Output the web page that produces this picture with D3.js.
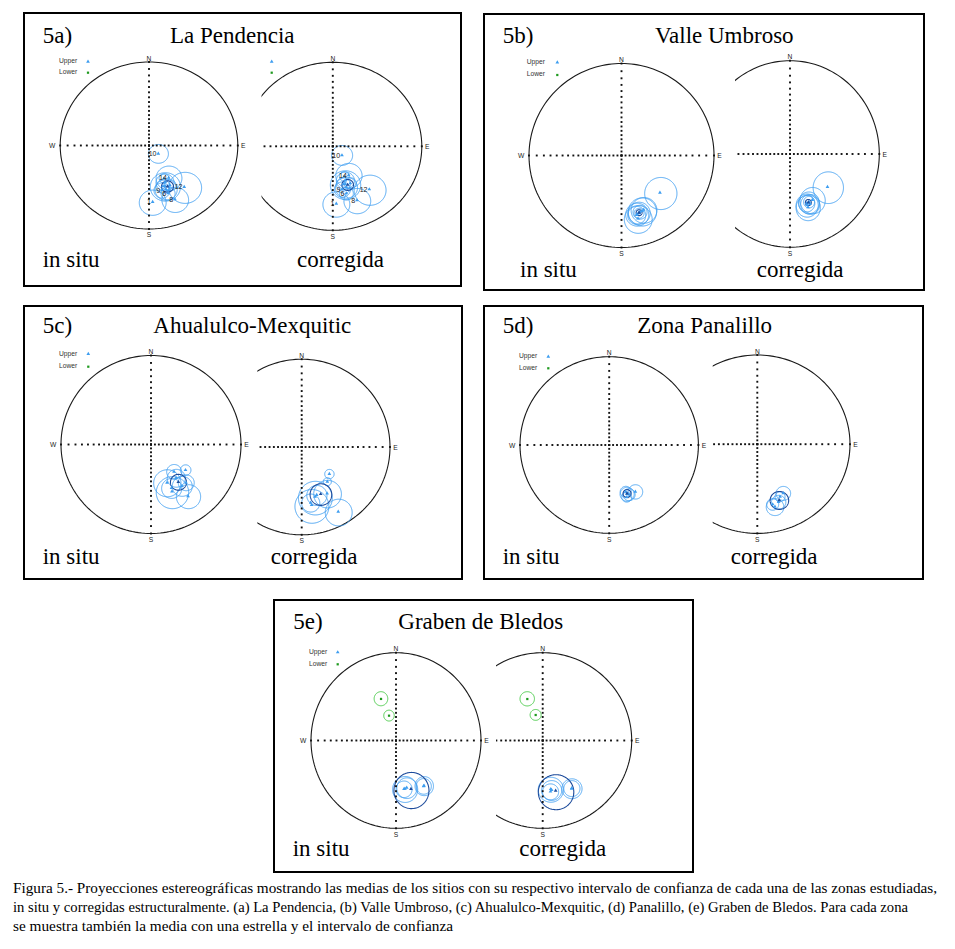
<!DOCTYPE html>
<html><head><meta charset="utf-8">
<script src="https://cdn.jsdelivr.net/npm/d3@7"></script>
<style>body{margin:0;background:#fff}svg{display:block}</style>
</head><body>
<script>
// ================= DATA =================
const panelIds = ["5a)", "5b)", "5c)", "5d)", "5e)"];
const panelTitles = ["La Pendencia", "Valle Umbroso", "Ahualulco-Mexquitic", "Zona Panalillo", "Graben de Bledos"];
const netNames = ["in situ", "corregida"];
const legendNames = ["Upper", "Lower"];
const compassNames = ["N", "E", "S", "W"];
const gridIncTicks = [0,5,10,15,20,25,30,35,40,45,50,55,60,65,70,75,80,85,90];
const captionLines = [
  "Figura 5.- Proyecciones estereográficas mostrando las medias de los sitios con su respectivo intervalo de confianza de cada una de las zonas estudiadas,",
  "in situ y corregidas estructuralmente. (a) La Pendencia, (b) Valle Umbroso, (c) Ahualulco-Mexquitic, (d) Panalillo, (e) Graben de Bledos. Para cada zona",
  "se muestra también la media con una estrella y el intervalo de confianza"
];

// site means: declination, inclination (negative = upper hemisphere), alpha95
const pendenciaInSitu = [
  {site:"10", dec:133.4, inc:-73.6, a95:12.6},
  {site:"12", dec:141.3, inc:-25.2, a95:15.0},
  {site:"1",  dec:176.5, inc:-21.9, a95:11.8},
  {site:"8",  dec:155.6, inc:-19.6, a95:11.4},
  {site:"14", dec:150.1, inc:-42.1, a95:13.8},
  {site:"",   dec:157.8, inc:-39.2, a95:9.5},
  {site:"",   dec:162.2, inc:-35.7, a95:7.1},
  {site:"",   dec:160.0, inc:-31.7, a95:10.8},
  {site:"9",  dec:164.8, inc:-31.9, a95:7.9},
  {site:"",   dec:153.6, inc:-34.1, a95:6.0},
  {site:"6",  dec:159.5, inc:-27.2, a95:6.6},
  {site:"",   dec:156.7, inc:-43.7, a95:5.4},
  {site:"",   dec:159.6, inc:-35.3, a95:15.2},
  {site:"",   dec:157.0, inc:-34.0, a95:6.0, mean:true}
];
const pendenciaCorr = [
  {site:"10", dec:136.1, inc:-73.1, a95:13.2},
  {site:"12", dec:141.3, inc:-23.5, a95:14.2},
  {site:"1",  dec:176.7, inc:-21.3, a95:11.7},
  {site:"8",  dec:157.1, inc:-20.2, a95:11.5},
  {site:"14", dec:152.7, inc:-47.6, a95:14.6},
  {site:"",   dec:160.9, inc:-43.6, a95:9.8},
  {site:"",   dec:165.4, inc:-40.0, a95:7.4},
  {site:"",   dec:162.7, inc:-35.9, a95:11.2},
  {site:"9",  dec:168.2, inc:-34.8, a95:8.1},
  {site:"",   dec:155.9, inc:-38.5, a95:6.3},
  {site:"6",  dec:164.8, inc:-29.8, a95:6.7},
  {site:"",   dec:160.1, inc:-48.4, a95:5.6},
  {site:"",   dec:162.8, inc:-39.4, a95:15.8},
  {site:"",   dec:160.0, inc:-38.0, a95:6.0, mean:true}
];
const umbrosoInSitu = [
  {dec:134.2, inc:-29.8, a95:14.8},
  {dec:165.4, inc:-19.4, a95:11.4},
  {dec:159.8, inc:-24.5, a95:12.3},
  {dec:163.1, inc:-24.0, a95:9.6},
  {dec:157.8, inc:-25.1, a95:11.3},
  {dec:165.8, inc:-22.6, a95:7.7},
  {dec:163.2, inc:-23.5, a95:4.3},
  {dec:162.0, inc:-24.3, a95:6.1},
  {dec:165.2, inc:-23.3, a95:9.9},
  {dec:163.0, inc:-24.0, a95:2.6, mean:true}
];
const umbrosoCorr = [
  {dec:130.1, inc:-32.5, a95:14.8},
  {dec:160.6, inc:-27.6, a95:11.3},
  {dec:153.1, inc:-32.2, a95:12.3},
  {dec:158.0, inc:-31.6, a95:10.1},
  {dec:160.5, inc:-31.5, a95:7.8},
  {dec:157.3, inc:-29.7, a95:9.1},
  {dec:160.8, inc:-29.9, a95:10.6},
  {dec:157.5, inc:-31.8, a95:5.4},
  {dec:158.5, inc:-31.6, a95:2.9, mean:true}
];
const ahualulcoInSitu = [
  {dec:126.8, inc:-38.8, a95:5.5},
  {dec:157.4, inc:-40.3, a95:14.2},
  {dec:156.2, inc:-30.0, a95:15.3},
  {dec:144.6, inc:-19.2, a95:10.2},
  {dec:140.1, inc:-46.5, a95:8.2},
  {dec:137.7, inc:-29.9, a95:7.6},
  {dec:155.0, inc:-33.3, a95:9.9},
  {dec:143.6, inc:-29.8, a95:9.5},
  {dec:143.5, inc:-39.8, a95:9.4},
  {dec:144.3, inc:-35.1, a95:8.0, mean:true}
];
const ahualulcoCorr = [
  {dec:134.5, inc:-42.6, a95:5.1},
  {dec:143.7, inc:-37.8, a95:4.2},
  {dec:170.3, inc:-22.4, a95:15.0},
  {dec:165.1, inc:-29.2, a95:16.1},
  {dec:151.4, inc:-28.0, a95:13.1},
  {dec:150.7, inc:-9.6,  a95:10.1},
  {dec:162.7, inc:-30.4, a95:9.8},
  {dec:170.9, inc:-24.6, a95:8.3},
  {dec:158.1, inc:-30.0, a95:10.5, mean:true}
];
const panalilloInSitu = [
  {dec:151.0, inc:-27.7, a95:6.8},
  {dec:160.2, inc:-28.9, a95:6.7},
  {dec:160.7, inc:-31.5, a95:5.4},
  {dec:161.6, inc:-26.3, a95:4.6},
  {dec:158.4, inc:-27.8, a95:5.7},
  {dec:160.0, inc:-29.4, a95:3.8, mean:true}
];
const panalilloCorr = [
  {dec:153.0, inc:-26.7, a95:6.5},
  {dec:164.8, inc:-18.0, a95:7.1},
  {dec:166.2, inc:-20.5, a95:5.0},
  {dec:157.4, inc:-25.0, a95:4.4},
  {dec:160.5, inc:-21.0, a95:6.0},
  {dec:159.3, inc:-22.4, a95:7.9, mean:true}
];
const bledosInSitu = [
  {dec:339.6, inc:36.4, a95:7.3},
  {dec:343.8, inc:57.2, a95:6.5},
  {dec:169.1, inc:-31.6, a95:12.8},
  {dec:166.8, inc:-32.2, a95:10.3},
  {dec:147.4, inc:-27.1, a95:9.0},
  {dec:148.0, inc:-27.0, a95:7.4},
  {dec:170.3, inc:-31.5, a95:8.2},
  {dec:162.3, inc:-29.8, a95:17.4, mean:true}
];
const bledosCorr = [
  {dec:339.9, inc:36.6, a95:7.4},
  {dec:344.8, inc:56.5, a95:6.5},
  {dec:170.7, inc:-31.5, a95:12.3},
  {dec:170.0, inc:-30.4, a95:9.7},
  {dec:149.1, inc:-25.2, a95:9.2},
  {dec:149.1, inc:-25.2, a95:7.4},
  {dec:171.4, inc:-29.1, a95:7.7},
  {dec:165.7, inc:-28.9, a95:16.7, mean:true}
];

// ================= LAYOUT / STYLE =================
const COL_UP = "#3d9df0", COL_MEAN = "#1d4b9b", COL_LOW = "#37c437";
const SERIF = "'Liberation Serif','Times New Roman',serif";
const SANS = "'Liberation Sans',Arial,sans-serif";

const panels = [
  {box:[24,13,461,286], idXY:[42.7,43.3], titleX:170, labelY:267, labelX:[42.7,297],
   legend:{tx:59, ty:[63,74], mx:88, my:[61.7,72.7], right:271.7},
   nets:[{cx:149,cy:145.5,rx:88.8,ry:83.5,data:pendenciaInSitu,labels:true},
         {cx:332.8,cy:146.3,rx:89,ry:84,clip:261.5,data:pendenciaCorr,labels:true}]},
  {box:[484,14,924,290], idXY:[502.7,43.3], titleX:655, labelY:276.7, labelX:[520,756.7],
   legend:{tx:526.7, ty:[64,76], mx:557.3, my:[62.3,75]},
   nets:[{cx:621.5,cy:155.5,rx:92.5,ry:92,data:umbrosoInSitu},
         {cx:790,cy:154,rx:89.3,ry:93.3,clip:735,data:umbrosoCorr}]},
  {box:[24,306,462,579], idXY:[42.7,333.3], titleX:153.3, labelY:564, labelX:[42.7,270.7],
   legend:{tx:59, ty:[355.5,368], mx:88.3, my:[354,366.7]},
   nets:[{cx:151,cy:444.5,rx:90,ry:89,data:ahualulcoInSitu},
         {cx:301.7,cy:447,rx:88.3,ry:87.8,clip:257.3,data:ahualulcoCorr}]},
  {box:[484,306,923,579], idXY:[502.7,333.3], titleX:637.3, labelY:564, labelX:[502.7,730.7],
   legend:{tx:519, ty:[358,370], mx:548.3, my:[356.7,368.3]},
   nets:[{cx:609.2,cy:445,rx:89.2,ry:88.3,data:panalilloInSitu},
         {cx:757.3,cy:444.2,rx:92.7,ry:89.2,clip:712.7,data:panalilloCorr}]},
  {box:[274,600,693,872], idXY:[293.3,629.3], titleX:398.3, labelY:856, labelX:[292.7,519.3],
   legend:{tx:309, ty:[654,665.5], mx:337.7, my:[652.3,664.3]},
   nets:[{cx:396,cy:740.5,rx:85,ry:87.8,data:bledosInSitu},
         {cx:542.7,cy:740.5,rx:89,ry:87.8,clip:496,data:bledosCorr}]}
];

// ================= DRAW =================
const svg = d3.select("body").append("svg").attr("width",955).attr("height",949)
  .attr("viewBox","0 0 955 949");
svg.append("rect").attr("width",955).attr("height",949).attr("fill","#fff");
const defs = svg.append("defs");
const triangle = d3.symbol(d3.symbolTriangle).size(6);
const square = d3.symbol(d3.symbolSquare).size(5);
let clipId = 0;

function drawNet(net) {
  const k = net.ry / net.rx;
  const proj = d3.geoStereographic().scale(net.rx).translate([0,0])
    .rotate([180,-90]).reflectX(true).precision(0.05);
  const path = d3.geoPath(proj);
  const P = (dec, inc) => { const p = proj([dec, Math.abs(inc)]); return [net.cx + p[0], net.cy + p[1]*k]; };

  const root = svg.append("g");
  if (net.clip != null) {
    const id = "clip" + (clipId++);
    defs.append("clipPath").attr("id", id).append("rect")
      .attr("x", net.clip).attr("y", 0).attr("width", 955 - net.clip).attr("height", 949);
    root.attr("clip-path", `url(#${id})`);
  }
  const inner = root.append("g").attr("transform", `translate(${net.cx},${net.cy}) scale(1,${k})`);
  // primitive circle
  inner.append("path").datum(d3.geoCircle().center([0,90]).radius(90)())
    .attr("d", path).attr("fill","none").attr("stroke","#1a1a1a").attr("stroke-width",1.1)
    .attr("vector-effect","non-scaling-stroke");

  // dotted N-S / E-W axes (5 degree inclination ticks)
  const dots = [];
  [0,90,180,270].forEach(az => gridIncTicks.forEach(i => dots.push(P(az, i))));
  root.selectAll("rect.dot").data(dots).join("rect").attr("class","dot")
    .attr("x", d => d[0]-0.95).attr("y", d => d[1]-0.95).attr("width",1.9).attr("height",1.9).attr("fill","#111");

  // confidence circles
  inner.selectAll("path.a95").data(net.data).join("path").attr("class","a95")
    .attr("d", d => path(d3.geoCircle().center([d.dec, Math.abs(d.inc)]).radius(d.a95)()))
    .attr("fill","none")
    .attr("stroke", d => d.inc > 0 ? COL_LOW : (d.mean ? COL_MEAN : COL_UP))
    .attr("stroke-width", d => d.mean ? 1.1 : 0.9)
    .attr("vector-effect","non-scaling-stroke");

  // markers
  root.selectAll("path.mk").data(net.data).join("path").attr("class","mk")
    .attr("d", d => d.inc > 0 ? square() : triangle())
    .attr("transform", d => { const p = P(d.dec, d.inc); return `translate(${p[0]},${p[1]})`; })
    .attr("fill", d => d.inc > 0 ? "#1e9a1e" : (d.mean ? COL_MEAN : COL_UP));

  if (net.labels) {
    root.selectAll("text.site").data(net.data.filter(d => d.site)).join("text").attr("class","site")
      .attr("x", d => P(d.dec, d.inc)[0] - 1.8).attr("y", d => P(d.dec, d.inc)[1] + 2.4)
      .attr("text-anchor","end").attr("font-family", SANS).attr("font-size", 7).attr("fill","#222")
      .text(d => d.site);
  }

  // compass labels
  const top = P(0,0), right = P(90,0), bottom = P(180,0), left = P(270,0);
  const lab = [
    {t:compassNames[0], x:top[0], y:top[1]-1.3, a:"middle"},
    {t:compassNames[1], x:right[0]+3.3, y:right[1]+2.6, a:"start"},
    {t:compassNames[2], x:bottom[0], y:bottom[1]+8.2, a:"middle"}
  ];
  if (net.clip == null) lab.push({t:compassNames[3], x:left[0]-4.8, y:left[1]+2.6, a:"end"});
  svg.append("g").selectAll("text").data(lab).join("text")
    .attr("x", d => d.x).attr("y", d => d.y).attr("text-anchor", d => d.a)
    .attr("font-family", SANS).attr("font-size", 6.7).attr("fill","#222").text(d => d.t);
}

panels.forEach((p, i) => {
  const [x0,y0,x1,y1] = p.box;
  svg.append("rect").attr("x",x0).attr("y",y0).attr("width",x1-x0).attr("height",y1-y0)
    .attr("fill","none").attr("stroke","#000").attr("stroke-width",2);
  svg.append("text").attr("x",p.idXY[0]).attr("y",p.idXY[1]).attr("font-family",SERIF)
    .attr("font-size",23).attr("fill","#000").text(panelIds[i]);
  svg.append("text").attr("x",p.titleX).attr("y",p.idXY[1]).attr("font-family",SERIF)
    .attr("font-size",23).attr("fill","#000").text(panelTitles[i]);
  netNames.forEach((n, j) => svg.append("text").attr("x",p.labelX[j]).attr("y",p.labelY)
    .attr("font-family",SERIF).attr("font-size",23).attr("fill","#000").text(n));
  // legend
  const L = p.legend;
  legendNames.forEach((n, j) => {
    svg.append("text").attr("x",L.tx).attr("y",L.ty[j]).attr("font-family",SANS)
      .attr("font-size",6.7).attr("fill","#333").text(n);
    const xs = L.right ? [L.mx, L.right] : [L.mx];
    xs.forEach(mx => svg.append("path").attr("d", j === 0 ? triangle() : square())
      .attr("transform",`translate(${mx},${L.my[j]})`)
      .attr("fill", j === 0 ? COL_UP : "#1e9a1e"));
  });
  p.nets.forEach(drawNet);
});

// caption
const capX = 13, capY = [893, 912, 931], capW = [924, 895, 440];
captionLines.forEach((t, i) => svg.append("text").attr("x",capX).attr("y",capY[i])
  .attr("font-family",SERIF).attr("font-size",15).attr("fill","#000")
  .attr("textLength",capW[i]).attr("lengthAdjust","spacingAndGlyphs").text(t));
</script>
</body></html>
